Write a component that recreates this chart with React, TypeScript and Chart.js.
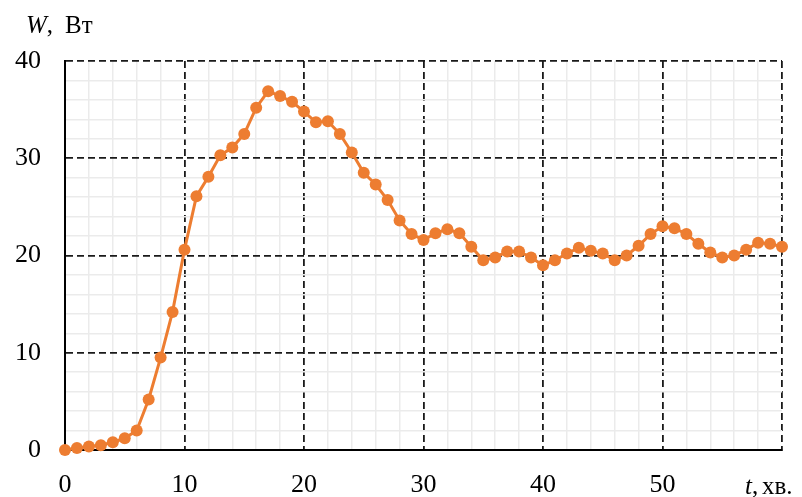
import React, { useEffect, useRef } from "react";
import { Chart, registerables } from "chart.js";

Chart.register(...registerables);

const times: number[] = [
  0, 1, 2, 3, 4, 5, 6, 7, 8, 9, 10, 11, 12, 13, 14, 15, 16, 17, 18, 19, 20,
  21, 22, 23, 24, 25, 26, 27, 28, 29, 30, 31, 32, 33, 34, 35, 36, 37, 38, 39, 40,
  41, 42, 43, 44, 45, 46, 47, 48, 49, 50, 51, 52, 53, 54, 55, 56, 57, 58, 59, 60,
];

const power: number[] = [
  0, 0.2, 0.35, 0.5, 0.8, 1.2, 2.0, 5.2, 9.5, 14.2, 20.6,
  26.1, 28.1, 30.3, 31.1, 32.5, 35.2, 36.9, 36.4, 35.8, 34.8,
  33.7, 33.8, 32.5, 30.6, 28.5, 27.3, 25.7, 23.6, 22.2, 21.6,
  22.3, 22.7, 22.3, 20.9, 19.5, 19.8, 20.4, 20.4, 19.8, 19.0,
  19.5, 20.2, 20.8, 20.5, 20.2, 19.5, 20.0, 21.0, 22.2, 23.0,
  22.8, 22.2, 21.2, 20.3, 19.8, 20.0, 20.6, 21.3, 21.2, 20.9,
];

const xGridTicks: number[] = [0, 2, 4, 6, 8, 10, 12, 14, 16, 18, 20, 22, 24, 26, 28, 30, 32, 34, 36, 38, 40, 42, 44, 46, 48, 50, 52, 54, 56, 58, 60];
const yGridTicks: number[] = [0, 2, 4, 6, 8, 10, 12, 14, 16, 18, 20, 22, 24, 26, 28, 30, 32, 34, 36, 38, 40];
const xMajorTicks: number[] = [0, 10, 20, 30, 40, 50];
const yMajorTicks: number[] = [0, 10, 20, 30, 40];
const yTitle = { italic: "W", comma: ",", rest: "Вт" };
const xTitle = { italic: "t", comma: ",", rest: "хв." };

const FONT = "'Liberation Serif', 'Times New Roman', serif";
const ORANGE = "#ED7D31";
const MINOR = "#ebebeb";
const MAJOR = "#1a1a1a";

const titlesPlugin = {
  id: "axisTitles",
  afterDraw(chart: any) {
    const ctx = chart.ctx;
    ctx.save();
    ctx.fillStyle = "#000";
    ctx.textBaseline = "alphabetic";
    ctx.textAlign = "left";
    // Y title
    ctx.font = `italic 25px ${FONT}`;
    const yBase = 33;
    ctx.fillText(yTitle.italic, 26, yBase);
    const wW = ctx.measureText(yTitle.italic).width;
    ctx.font = `25px ${FONT}`;
    ctx.fillText(yTitle.comma, 26 + wW, yBase);
    ctx.fillText(yTitle.rest, 65, yBase);
    // X title
    const xBase = 494;
    ctx.font = `italic 25px ${FONT}`;
    ctx.fillText(xTitle.italic, 745, xBase);
    const tW = ctx.measureText(xTitle.italic).width;
    ctx.font = `25px ${FONT}`;
    ctx.fillText(xTitle.comma, 745 + tW, xBase);
    ctx.fillText(xTitle.rest, 762, xBase);
    ctx.restore();
  },
};

const isMajor = (v: number) => Math.abs(v % 10) < 1e-6;

const gridColor = (c: any) => {
  const v = c.tick ? c.tick.value : -1;
  if (v === 0) return "rgba(0,0,0,0)";
  return isMajor(v) ? MAJOR : MINOR;
};
const gridWidth = (c: any) => {
  const v = c.tick ? c.tick.value : -1;
  return isMajor(v) ? 1.8 : 1.5;
};
const gridDash = (c: any) => {
  const v = c.tick ? c.tick.value : -1;
  return c.tick && isMajor(v) ? [7, 4] : [];
};

export default function App() {
  const ref = useRef<HTMLCanvasElement | null>(null);

  useEffect(() => {
    if (!ref.current) return;
    const chart = new Chart(ref.current, {
      type: "line",
      data: {
        datasets: [
          {
            data: times.map((t, i) => ({ x: t, y: power[i] })),
            borderColor: ORANGE,
            backgroundColor: ORANGE,
            borderWidth: 3,
            pointRadius: 6,
            pointBorderWidth: 0,
            pointBackgroundColor: ORANGE,
            tension: 0,
            clip: false,
          },
        ],
      },
      options: {
        animation: false,
        responsive: false,
        maintainAspectRatio: false,
        layout: { padding: { left: 0, right: 19, top: 61, bottom: 0 } },
        plugins: { legend: { display: false }, tooltip: { enabled: false } },
        scales: {
          x: {
            type: "linear",
            min: 0,
            max: 60,
            afterFit: (s: any) => {
              s.height = 47;
            },
            afterBuildTicks: (s: any) => {
              s.ticks = xGridTicks.map((v) => ({ value: v }));
            },
            ticks: {
              autoSkip: false,
              maxRotation: 0,
              padding: 20,
              color: "#000",
              font: { family: FONT, size: 26 },
              callback: (v: any) => (xMajorTicks.includes(Number(v)) ? String(v) : ""),
            },
            grid: { drawTicks: false, color: gridColor, lineWidth: gridWidth },
            border: { display: true, color: "#000", width: 2, dash: gridDash },
          },
          y: {
            type: "linear",
            min: 0,
            max: 40,
            afterFit: (s: any) => {
              s.width = 65;
            },
            afterBuildTicks: (s: any) => {
              s.ticks = yGridTicks.map((v) => ({ value: v }));
            },
            ticks: {
              autoSkip: false,
              padding: 24,
              color: "#000",
              font: { family: FONT, size: 26 },
              callback: (v: any) => (yMajorTicks.includes(Number(v)) ? String(v) : ""),
            },
            grid: { drawTicks: false, color: gridColor, lineWidth: gridWidth },
            border: { display: true, color: "#000", width: 2, dash: gridDash },
          },
        },
      },
      plugins: [titlesPlugin],
    } as any);
    return () => chart.destroy();
  }, []);

  return (
    <div style={{ position: "absolute", left: 0, top: 0, width: 802, height: 497, background: "#fff" }}>
      <canvas ref={ref} width={802} height={497} style={{ width: 802, height: 497 }} />
    </div>
  );
}
